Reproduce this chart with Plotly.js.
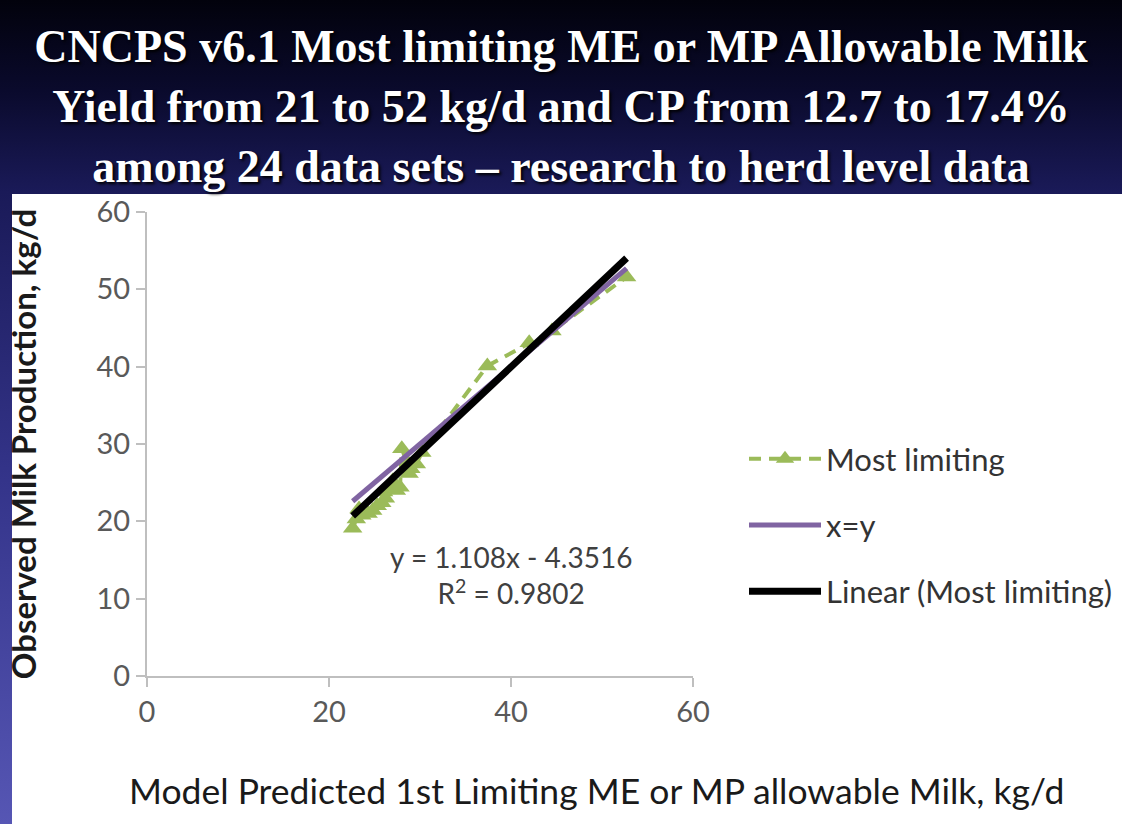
<!DOCTYPE html>
<html>
<head>
<meta charset="utf-8">
<script src="https://cdn.plot.ly/plotly-3.0.1.min.js"></script>
<style>
html,body{margin:0;padding:0;}
#chart{width:1122px;height:824px;background:linear-gradient(to bottom,#02020c 0px,#0a0a2c 90px,#1a1a58 192px,#34348a 480px,#5656b4 824px);}
</style>
</head>
<body>
<div id="chart"></div>
<script>
// Observed vs predicted milk (kg/d), 24 data sets
const predictedMilk = [22.6, 23.0, 23.3, 23.6, 24.3, 24.8, 25.3, 25.8, 26.0, 26.2, 26.6, 27.0, 27.4, 27.8, 28.0, 28.5, 28.8, 29.0, 29.6, 30.2, 37.4, 42.0, 44.5, 52.7];
const observedMilk  = [19.1, 20.3, 21.6, 20.8, 21.0, 21.4, 22.0, 22.4, 23.8, 23.0, 24.4, 25.2, 24.0, 24.4, 29.4, 27.8, 26.2, 26.8, 27.4, 28.9, 40.1, 43.1, 44.6, 51.6];
const trendSlope = 1.108;
const trendIntercept = -4.3516;
const rSquared = 0.9802;
const xTicks = [0, 20, 40, 60];
const yTicks = [0, 10, 20, 30, 40, 50, 60];
const titleLines = [
  'CNCPS v6.1 Most limiting ME or MP Allowable Milk',
  'Yield from 21 to 52 kg/d and CP from 12.7 to 17.4%',
  'among 24 data sets \u2013 research to herd level data'
];
const xTitle = 'Model Predicted 1st Limiting ME or MP allowable Milk, kg/d';
const yTitle = 'Observed Milk Production, kg/d';

const xMin = Math.min(...predictedMilk), xMax = Math.max(...predictedMilk);
const lineX = [xMin, xMax];

const sans = 'Lato, "Open Sans", sans-serif';
const tickFont = {family: sans, size: 29, color: '#595959'};

const traces = [
  {x: predictedMilk, y: observedMilk, type: 'scatter', mode: 'lines+markers', name: 'Most limiting',
   line: {color: '#9bbb59', width: 4, dash: '12px,8px'},
   marker: {symbol: 'triangle-up', size: 17, color: '#9bbb59'},
   legendgroup: 'a'},
  {x: lineX, y: lineX, type: 'scatter', mode: 'lines', name: 'x=y',
   line: {color: '#8064a2', width: 5}, legendgroup: 'b'},
  {x: lineX, y: lineX.map(v => trendSlope * v + trendIntercept), type: 'scatter', mode: 'lines',
   name: 'Linear (Most limiting)', line: {color: '#000000', width: 7}, legendgroup: 'c'}
];

const layout = {
  width: 1122, height: 824,
  paper_bgcolor: 'rgba(0,0,0,0)', plot_bgcolor: 'rgba(0,0,0,0)',
  margin: {l: 147, r: 429, t: 212, b: 148, autoexpand: false},
  title: {
    text: titleLines.join('<br>'),
    font: {family: '"Liberation Serif", "DejaVu Serif", serif', size: 46, color: '#ffffff', weight: 700, shadow: '2px 2px 3px #000'},
    x: 0.5, xref: 'container', xanchor: 'center',
    y: 1 - 62/824, yref: 'container', yanchor: 'middle'
  },
  xaxis: {
    range: [0, 60], tickvals: xTicks, ticktext: xTicks.map(String),
    showgrid: false, zeroline: false, showline: true, linecolor: '#bfbfbf', linewidth: 2,
    ticks: 'outside', ticklen: 9, tickcolor: '#bfbfbf', tickwidth: 2,
    tickfont: tickFont, fixedrange: true
  },
  yaxis: {
    range: [0, 60], tickvals: yTicks, ticktext: yTicks.map(String),
    showgrid: false, zeroline: false, showline: true, linecolor: '#bfbfbf', linewidth: 2,
    ticks: 'outside', ticklen: 9, tickcolor: '#bfbfbf', tickwidth: 2,
    tickfont: tickFont, fixedrange: true,
    title: {text: yTitle, standoff: 50,
            font: {family: sans, size: 33, color: '#1a1a1a', weight: 700}}
  },
  legend: {
    x: (744 - 147) / 546, xanchor: 'left', y: (676 - 525) / 464, yanchor: 'middle',
    font: {family: sans, size: 31, color: '#333333'},
    bgcolor: 'rgba(0,0,0,0)', tracegroupgap: 23, itemwidth: 72
  },
  annotations: [{
    x: 40, y: 13.1, xref: 'x', yref: 'y', showarrow: false,
    text: 'y = ' + trendSlope + 'x - ' + Math.abs(trendIntercept) + '<br>R<sup>2</sup> = ' + rSquared,
    align: 'center', font: {family: sans, size: 28, color: '#404040'}
  }, {
    x: (596 - 147) / 546, y: (676 - 790) / 464, xref: 'paper', yref: 'paper', showarrow: false,
    xanchor: 'center', yanchor: 'middle', text: xTitle,
    font: {family: sans, size: 35.5, color: '#1a1a1a'}
  }],
  shapes: [{
    type: 'rect', xref: 'paper', yref: 'paper', layer: 'below',
    x0: (12 - 147) / 546, x1: (1122 - 147) / 546,
    y0: (676 - 824) / 464, y1: (676 - 194) / 464,
    fillcolor: '#ffffff', line: {width: 0}
  }],
  showlegend: true
};

Plotly.newPlot('chart', traces, layout, {displayModeBar: false, staticPlot: true});
</script>
</body>
</html>
